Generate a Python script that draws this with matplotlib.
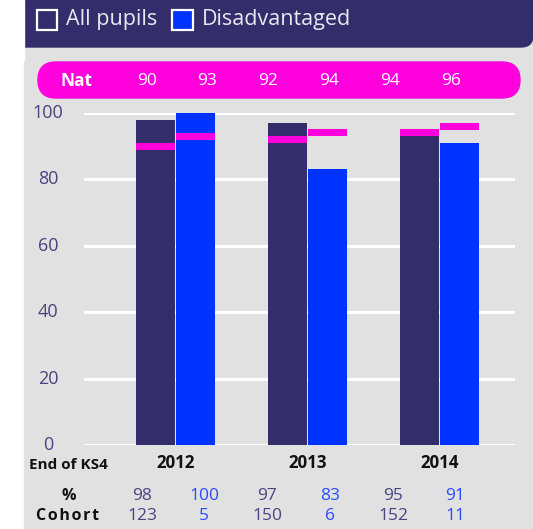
import matplotlib.pyplot as plt
from matplotlib.patches import FancyBboxPatch, Rectangle

plt.rcParams['font.family'] = ['Open Sans', 'DejaVu Sans']

years = ["2012", "2013", "2014"]
pct_all = [98, 97, 95]
pct_dis = [100, 83, 91]
nat_all = [90, 92, 94]
nat_dis = [93, 94, 96]
cohort_all = [123, 150, 152]
cohort_dis = [5, 6, 11]
yticks = [0, 20, 40, 60, 80, 100]

purple = '#342d6c'
blue = '#0033ff'
pink = '#ff00dd'
grey = '#e1e1e1'
tick_col = '#4a4282'
dis_text = '#2a4cff'

W, H = 533, 529
fig = plt.figure(figsize=(W / 100, H / 100), dpi=100)
fig.patch.set_facecolor('white')

# full-figure axes in pixel units for the panel furniture
bg = fig.add_axes([0, 0, 1, 1])
bg.set_xlim(0, W)
bg.set_ylim(H, 0)
bg.axis('off')

bg.add_patch(Rectangle((24, 40), W - 24, H - 40, color=grey, zorder=0))
bg.add_patch(FancyBboxPatch((-40, -60), W + 40, 107,
                            boxstyle='round,pad=0,rounding_size=12',
                            color=purple, zorder=1))
bg.add_patch(Rectangle((0, 0), 24, 60, color='white', zorder=2))

# legend in header
bg.add_patch(Rectangle((36.5, 9.5), 20, 20, facecolor=purple,
                       edgecolor='white', lw=1.6, zorder=3))
bg.text(66, 20, "All pupils", color='#e8e8f0', fontsize=15.5,
        va='center', ha='left', zorder=3)
bg.add_patch(Rectangle((171.5, 9.5), 21, 20, facecolor=blue,
                       edgecolor='white', lw=1.6, zorder=3))
bg.text(202, 20, "Disadvantaged", color='#e8e8f0', fontsize=15.5,
        va='center', ha='left', zorder=3)

# national figures pill
bg.add_patch(FancyBboxPatch((38, 62), 482, 36,
                            boxstyle='round,pad=0,rounding_size=18',
                            color=pink, zorder=1))
bg.text(77, 81, "Nat", color='white', fontsize=12.5, fontweight='bold',
        ha='center', va='center')
nat_x = [147, 207, 268, 329, 390, 451]
nat_vals = []
for a, d in zip(nat_all, nat_dis):
    nat_vals += [a, d]
for x, v in zip(nat_x, nat_vals):
    bg.text(x, 81, str(v), color='white', fontsize=12.5,
            ha='center', va='center')

# chart axes: x 84..515 px, y 0 at 445 px, 100 at 113 px
left, right, top, bottom = 84, 515, 113, 445
ax = fig.add_axes([left / W, 1 - bottom / H, (right - left) / W, (bottom - top) / H])
ax.patch.set_alpha(0)
step = 132.0
x0 = -(175.5 - left) / step
ax.set_xlim(x0, x0 + (right - left) / step)
ax.set_ylim(0, 100)
for s in ax.spines.values():
    s.set_visible(False)
ax.set_xticks([])
ax.set_yticks([])
for t in yticks:
    ax.axhline(t, color='white', lw=2.3, zorder=1)

bw = 39 / step
off = 20 / step
xs = list(range(len(years)))
ax.bar([x - off for x in xs], pct_all, width=bw, color=purple, zorder=2, clip_on=False)
ax.bar([x + off for x in xs], pct_dis, width=bw, color=blue, zorder=2, clip_on=False)
band = 2.1
ax.bar([x - off for x in xs], [band] * 3, bottom=[n - band / 2 for n in nat_all],
       width=bw, color=pink, zorder=3)
ax.bar([x + off for x in xs], [band] * 3, bottom=[n - band / 2 for n in nat_dis],
       width=bw, color=pink, zorder=3)

# y tick labels centred at x=48 px
for t in yticks:
    py = bottom - t * (bottom - top) / 100
    bg.text(48, py, str(t), color=tick_col, fontsize=13, ha='center', va='center')

# table under the chart
bg.text(68, 465, "End of KS4", fontsize=11, fontweight='bold', color='#111111',
        ha='center', va='center')
for i, y in enumerate(years):
    bg.text(175.5 + i * step, 463, y, fontsize=12.2, fontweight='bold', color='#111111',
            ha='center', va='center')
bg.text(69, 496, "%", fontsize=11.5, fontweight='bold', color='#111111',
        ha='center', va='center')
bg.text(68, 516, "C o h o r t".replace(" ", "\u200a"), fontsize=11.5, fontweight='bold',
        color='#111111', ha='center', va='center')
all_x = [142, 267, 393]
dis_x = [204, 330, 455]
for i in range(len(years)):
    bg.text(all_x[i], 496, str(pct_all[i]), color=tick_col, fontsize=12.5, ha='center', va='center')
    bg.text(all_x[i], 516, str(cohort_all[i]), color=tick_col, fontsize=12.5, ha='center', va='center')
    bg.text(dis_x[i], 496, str(pct_dis[i]), color=dis_text, fontsize=12.5, ha='center', va='center')
    bg.text(dis_x[i], 516, str(cohort_dis[i]), color=dis_text, fontsize=12.5, ha='center', va='center')

fig.savefig('out.png', dpi=100)
